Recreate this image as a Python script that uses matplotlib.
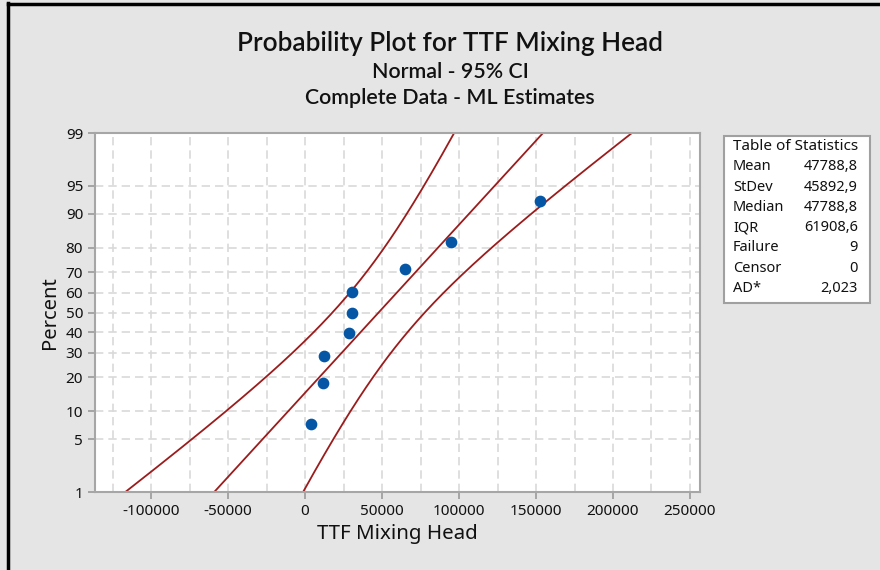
"""
Probability plot (Normal, 95% CI) for TTF Mixing Head, Minitab style
"""
import numpy as np
import matplotlib
matplotlib.use("Agg")
import matplotlib.pyplot as plt
from matplotlib.patches import Rectangle
from statistics import NormalDist

plt.rcParams['font.family'] = ['Noto Sans', 'DejaVu Sans']
title_font = ['Lato', 'DejaVu Sans']

# 1. data
ttf = [3700, 11500, 12500, 28400, 30300, 30300, 65100, 95000, 152600]
mean = 47788.8
stdev = 45892.9
stat_names = ["Mean", "StDev", "Median", "IQR", "Failure", "Censor", "AD*"]
stat_values = ["47788,8", "45892,9", "47788,8", "61908,6", "9", "0", "2,023"]
y_ticks = [1, 5, 10, 20, 30, 40, 50, 60, 70, 80, 90, 95, 99]
x_ticks = [-100000, -50000, 0, 50000, 100000, 150000, 200000, 250000]

nd = NormalDist()
n = len(ttf)
# median ranks (Bernard)
ranks = [(i + 1 - 0.3) / (n + 0.4) for i in range(n)]
z_pts = [nd.inv_cdf(p) for p in ranks]

# 2. fit line + 95% CI of percentiles (ML)
z = np.linspace(nd.inv_cdf(0.01), nd.inv_cdf(0.99), 200)
fit = mean + stdev * z
half = 1.96 * stdev * np.sqrt(1 / n + z ** 2 / (2 * n))

# 3. figure
fig = plt.figure(figsize=(8.8, 5.7), dpi=100, facecolor="#e5e5e5")
ax = fig.add_axes([95 / 880, 1 - 492 / 570, 605 / 880, 359 / 570])
ax.set_facecolor("white")

line_c = "#9b1c1c"
ax.plot(fit, z, color=line_c, lw=1.3)
ax.plot(fit - half, z, color=line_c, lw=1.3)
ax.plot(fit + half, z, color=line_c, lw=1.3)
ax.scatter(ttf, z_pts, s=55, color="#0557a6", zorder=3)

ax.set_xlim(-136400, 256500)
ax.set_ylim(nd.inv_cdf(0.01), nd.inv_cdf(0.99))

ax.set_xticks(x_ticks)
ax.set_xticklabels([str(v) for v in x_ticks])
ax.set_xticks(np.arange(-125000, 250001, 25000), minor=True)
ax.set_yticks([nd.inv_cdf(v / 100) for v in y_ticks])
ax.set_yticklabels([str(v) for v in y_ticks])

ax.grid(True, which="both", color="#d9d9d9", ls=(0, (5, 3)), lw=1.2)
ax.tick_params(axis="both", colors="#9a9a9a", labelcolor="#111111",
               labelsize=11, length=5, width=1.2)
ax.tick_params(axis="x", which="minor", length=0)
for s in ax.spines.values():
    s.set_color("#a6a6a6")
    s.set_linewidth(1.5)
ax.set_axisbelow(True)

ax.set_xlabel("TTF Mixing Head", fontsize=14.8, color="#111111", labelpad=4)
ax.set_ylabel("Percent", fontsize=14.5, color="#111111", labelpad=4)

# 4. titles
fig.text(450 / 880, 1 - 43 / 570, "Probability Plot for TTF Mixing Head",
         ha="center", va="center", fontsize=18.8, fontweight="semibold",
         family=title_font, color="#111111")
fig.text(450 / 880, 1 - 72 / 570, "Normal - 95% CI",
         ha="center", va="center", fontsize=15.4, fontweight="semibold",
         family=title_font, color="#111111")
fig.text(450 / 880, 1 - 98 / 570, "Complete Data - ML Estimates",
         ha="center", va="center", fontsize=15.4, fontweight="semibold",
         family=title_font, color="#111111")

# 5. table of statistics
fig.patches.append(Rectangle((724 / 880, 1 - 303 / 570), 146 / 880, 167 / 570,
                             transform=fig.transFigure, facecolor="white",
                             edgecolor="#a0a0a0", lw=1.5))
fig.text(796 / 880, 1 - 147 / 570, "Table of Statistics", ha="center",
         va="center", fontsize=11, color="#111111")
for i, (k, v) in enumerate(zip(stat_names, stat_values)):
    yy = 1 - (167 + i * 20.2) / 570
    fig.text(733 / 880, yy, k, ha="left", va="center", fontsize=10.5, color="#111111")
    fig.text(858 / 880, yy, v, ha="right", va="center", fontsize=10.5, color="#111111")

# window border
fig.add_artist(plt.Line2D([8 / 880, 8 / 880], [0, 1 - 3 / 570], color="black",
                          lw=2.5, transform=fig.transFigure))
fig.add_artist(plt.Line2D([8 / 880, 1], [1 - 4 / 570, 1 - 4 / 570], color="black",
                          lw=2.5, transform=fig.transFigure))

fig.savefig("out.png", dpi=100, facecolor=fig.get_facecolor())
